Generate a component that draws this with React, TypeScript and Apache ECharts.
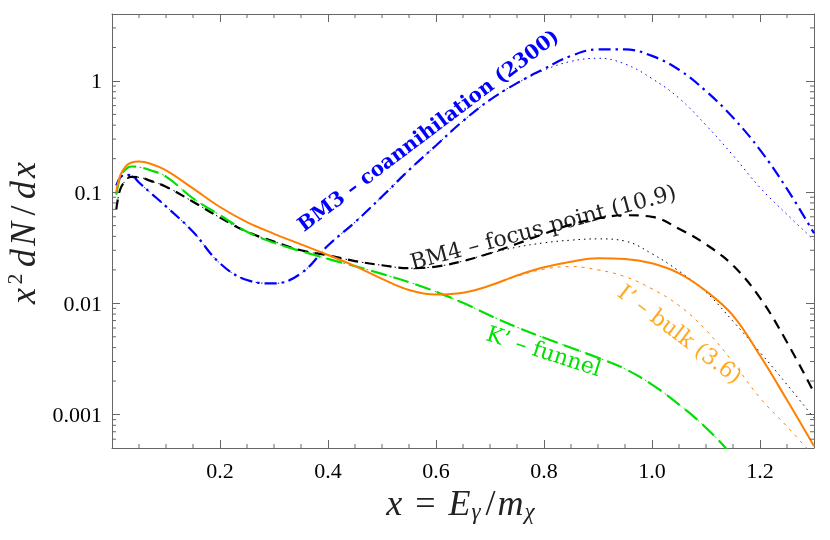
import React, { useEffect, useRef } from "react";
import * as echarts from "echarts";

// ---- data ----
const xs = [0.008, 0.015, 0.025, 0.035, 0.05, 0.07, 0.1, 0.15, 0.2, 0.25, 0.3, 0.35, 0.4, 0.45, 0.5, 0.55, 0.6, 0.65, 0.7, 0.75, 0.8, 0.85, 0.9, 0.95, 1.0, 1.05, 1.1, 1.15, 1.2, 1.25, 1.3];

const bm3Coann = [0.115, 0.135, 0.143, 0.142, 0.122, 0.1, 0.0745, 0.044, 0.0229, 0.0162, 0.0151, 0.0186, 0.0331, 0.0537, 0.0912, 0.158, 0.263, 0.436, 0.676, 0.955, 1.285, 1.68, 1.92, 1.92, 1.68, 1.26, 0.81, 0.468, 0.24, 0.107, 0.0427];
const bm3CoannAlt = [0.115, 0.135, 0.143, 0.142, 0.122, 0.1, 0.0745, 0.044, 0.0229, 0.0162, 0.0151, 0.0186, 0.0331, 0.0537, 0.0912, 0.158, 0.263, 0.436, 0.676, 0.955, 1.25, 1.5, 1.6, 1.42, 1.05, 0.7, 0.4, 0.214, 0.11, 0.063, 0.037];

const bm4Focus = [0.07, 0.105, 0.127, 0.137, 0.136, 0.127, 0.112, 0.082, 0.059, 0.044, 0.036, 0.03, 0.027, 0.024, 0.022, 0.0207, 0.0214, 0.024, 0.0282, 0.0343, 0.0422, 0.051, 0.058, 0.062, 0.06, 0.0468, 0.0339, 0.0219, 0.0112, 0.00447, 0.00158];
const bm4FocusAlt = [0.07, 0.105, 0.127, 0.137, 0.136, 0.127, 0.112, 0.082, 0.059, 0.044, 0.036, 0.03, 0.027, 0.024, 0.022, 0.0207, 0.0214, 0.024, 0.0282, 0.032, 0.035, 0.037, 0.038, 0.0363, 0.0279, 0.0195, 0.0126, 0.0069, 0.00363, 0.00186, 0.00093];

const iBulk = [0.1, 0.14, 0.17, 0.184, 0.189, 0.181, 0.157, 0.108, 0.0735, 0.0537, 0.0422, 0.0339, 0.0272, 0.0216, 0.0166, 0.0132, 0.012, 0.01245, 0.01445, 0.0178, 0.0211, 0.0237, 0.0254, 0.0251, 0.0229, 0.0186, 0.0129, 0.00776, 0.00339, 0.00135, 0.00052];
const iBulkAlt = [0.1, 0.14, 0.17, 0.184, 0.189, 0.181, 0.157, 0.108, 0.0735, 0.0537, 0.0422, 0.0339, 0.0272, 0.0216, 0.0166, 0.0132, 0.012, 0.01245, 0.01445, 0.0175, 0.0203, 0.0214, 0.02, 0.0174, 0.0135, 0.00955, 0.00575, 0.00295, 0.00141, 0.00078, 0.00042];

const kFunnel = [0.095, 0.135, 0.16, 0.17, 0.168, 0.158, 0.138, 0.088, 0.062, 0.044, 0.035, 0.0295, 0.0251, 0.0216, 0.0184, 0.0155, 0.0127, 0.0101, 0.00776, 0.0061, 0.0049, 0.00398, 0.00324, 0.00257, 0.00186, 0.00123, 0.00076, 0.00042, 0.00021, null, null];

const xTickLabels = ["0.2", "0.4", "0.6", "0.8", "1.0", "1.2"];
const yTickLabels = ["0.001", "0.01", "0.1", "1"];
const xMinorTicks = [0.05, 0.1, 0.15, 0.25, 0.3, 0.35, 0.45, 0.5, 0.55, 0.65, 0.7, 0.75, 0.85, 0.9, 0.95, 1.05, 1.1, 1.15, 1.25];
const yMinorTicks = [0.0006, 0.0007, 0.0008, 0.0009, 0.002, 0.003, 0.004, 0.005, 0.006, 0.007, 0.008, 0.009, 0.02, 0.03, 0.04, 0.05, 0.06, 0.07, 0.08, 0.09, 0.2, 0.3, 0.4, 0.5, 0.6, 0.7, 0.8, 0.9, 2, 3];

const X_MIN = 0;
const X_MAX = 1.3;
const Y_MIN = 0.0005;
const Y_MAX = 4;

const SERIF = '"Liberation Serif", "Times New Roman", serif';
const LABEL_SERIF = '"DejaVu Serif", serif';
const AXIS_COLOR = "#666";

const pair = (ys: (number | null)[]) => xs.map((x, i) => [x, ys[i] === null ? "-" : ys[i]]);

const App = () => {
  const ref = useRef<HTMLDivElement>(null);
  useEffect(() => {
    const chart = echarts.init(ref.current!, null, { renderer: "svg" });

    const xLabelFmt = (v: number) => {
      const s = v.toFixed(1);
      return xTickLabels.includes(s) && Math.abs(v - parseFloat(s)) < 1e-6 ? s : "";
    };
    const yLabelFmt = (v: number) => {
      const l = Math.log10(v);
      if (Math.abs(l - Math.round(l)) > 1e-6) return "";
      const s = String(Number(v.toPrecision(1)));
      return yTickLabels.includes(s) ? s : "";
    };

    const xAxisBase = (pos: "bottom" | "top", labels: boolean) => ({
      type: "value",
      position: pos,
      min: X_MIN,
      max: X_MAX,
      interval: 0.2,
      axisLine: { show: true, onZero: false, lineStyle: { color: AXIS_COLOR, width: 1 } },
      axisTick: { show: true, inside: true, length: 8, lineStyle: { color: AXIS_COLOR } },
      splitLine: { show: false },
      axisLabel: {
        show: labels,
        formatter: xLabelFmt,
        color: "#000",
        fontFamily: SERIF,
        fontSize: 22,
        margin: 11,
      },
    });
    const yAxisBase = (pos: "left" | "right", labels: boolean) => ({
      type: "log",
      logBase: 10,
      position: pos,
      min: Y_MIN,
      max: Y_MAX,
      splitNumber: 4,
      axisLine: { show: true, onZero: false, lineStyle: { color: AXIS_COLOR, width: 1 } },
      axisTick: { show: true, inside: true, length: 8, lineStyle: { color: AXIS_COLOR } },
      splitLine: { show: false },
      axisLabel: {
        show: labels,
        formatter: yLabelFmt,
        color: "#000",
        fontFamily: SERIF,
        fontSize: 22,
        margin: 10,
      },
    });

    const line = (name: string, ys: (number | null)[], color: string, width: number, type: any, z = 2) => ({
      name,
      type: "line",
      data: pair(ys),
      showSymbol: false,
      symbol: "none",
      smooth: 0.4,
      clip: true,
      z,
      lineStyle: { color, width, type, cap: "butt" },
    });

    const tickLine = (x1: number, y1: number, x2: number, y2: number) => ({
      type: "line",
      shape: { x1, y1, x2, y2 },
      style: { stroke: AXIS_COLOR, lineWidth: 1 },
    });

    const option: any = {
      animation: false,
      grid: { left: 112, right: 16, top: 14, bottom: 92, containLabel: false },
      xAxis: [xAxisBase("bottom", true), xAxisBase("top", false)],
      yAxis: [yAxisBase("left", true), yAxisBase("right", false)],
      series: [
        line("BM3 alt", bm3CoannAlt, "#0000ff", 1, [1.5, 4], 2),
        line("BM3 – coannihilation", bm3Coann, "#0000ff", 2.2, [12, 5, 2.5, 5], 3),
        line("BM4 alt", bm4FocusAlt, "#000000", 1, [1.5, 4], 2),
        line("BM4 – focus point", bm4Focus, "#000000", 2.2, [10, 7], 3),
        line("K' alt", kFunnel, "#00e000", 1, [2, 4], 2),
        line("K' – funnel", kFunnel, "#00e000", 2.2, [16, 7], 3),
        line("I' alt", iBulkAlt, "#ff8000", 1, [3, 5], 2),
        line("I' – bulk", iBulk, "#ff8000", 2, "solid", 4),
        {
          type: "custom",
          coordinateSystem: "cartesian2d",
          silent: true,
          clip: false,
          z: 5,
          data: yMinorTicks.map((v) => [X_MIN, v]),
          renderItem: (params: any, api: any) => {
            const v = api.value(1);
            const l = api.coord([X_MIN, v]);
            const r = api.coord([X_MAX, v]);
            return {
              type: "group",
              children: [tickLine(l[0], l[1], l[0] + 4, l[1]), tickLine(r[0] - 4, r[1], r[0], r[1])],
            };
          },
        },
        {
          type: "custom",
          coordinateSystem: "cartesian2d",
          silent: true,
          clip: false,
          z: 5,
          data: xMinorTicks.map((v) => [v, Y_MIN]),
          renderItem: (params: any, api: any) => {
            const v = api.value(0);
            const b = api.coord([v, Y_MIN]);
            const t = api.coord([v, Y_MAX]);
            return {
              type: "group",
              children: [tickLine(b[0], b[1], b[0], b[1] - 4), tickLine(t[0], t[1], t[0], t[1] + 4)],
            };
          },
        },
      ],
      graphic: [
        {
          type: "text",
          x: 428,
          y: 130,
          rotation: (37 * Math.PI) / 180,
          style: {
            text: "BM3 – coannihilation (2300)",
            fill: "#0000ff",
            font: `bold 20px ${LABEL_SERIF}`,
            align: "center",
            verticalAlign: "middle",
          },
        },
        {
          type: "text",
          x: 543,
          y: 227,
          rotation: (15 * Math.PI) / 180,
          style: {
            text: "BM4 – focus point (10.9)",
            fill: "#222222",
            font: `22px ${LABEL_SERIF}`,
            align: "center",
            verticalAlign: "middle",
          },
        },
        {
          type: "text",
          x: 680,
          y: 334,
          rotation: (-37 * Math.PI) / 180,
          style: {
            text: "I’ – bulk (3.6)",
            fill: "#ffaa22",
            font: `22px ${LABEL_SERIF}`,
            align: "center",
            verticalAlign: "middle",
          },
        },
        {
          type: "text",
          x: 544,
          y: 351,
          rotation: (-18 * Math.PI) / 180,
          style: {
            text: "K’ – funnel",
            fill: "#00e000",
            font: `22px ${LABEL_SERIF}`,
            align: "center",
            verticalAlign: "middle",
          },
        },
        {
          type: "text",
          x: 462,
          y: 503,
          style: {
            text: "{i|x}{eq|=}{i|E}{s|γ}{sl|/}{i|m}{s|χ}",
            align: "center",
            verticalAlign: "middle",
            rich: {
              i: { fontFamily: SERIF, fontStyle: "italic", fontSize: 36, lineHeight: 40, fill: "#222" },
              eq: { fontFamily: SERIF, fontSize: 36, lineHeight: 40, fill: "#222", padding: [0, 13, 0, 13] },
              sl: { fontFamily: SERIF, fontSize: 36, lineHeight: 40, fill: "#222", padding: [0, 2, 0, 2] },
              s: { fontFamily: SERIF, fontStyle: "italic", fontSize: 23, lineHeight: 19, verticalAlign: "bottom", fill: "#222", padding: [0, 3, 0, 1] },
            },
          },
        },
        {
          type: "text",
          x: 23,
          y: 233,
          rotation: Math.PI / 2,
          style: {
            text: "{i|x}{sup|2}{i|d}{i|N}{sl|/}{i|d}{i|x}",
            align: "center",
            verticalAlign: "middle",
            rich: {
              i: { fontFamily: SERIF, fontStyle: "italic", fontSize: 36, lineHeight: 40, fill: "#222", padding: [0, 1.5, 0, 1.5] },
              sl: { fontFamily: SERIF, fontSize: 36, lineHeight: 40, fill: "#222", padding: [0, 5, 0, 5] },
              sup: { fontFamily: SERIF, fontSize: 22, lineHeight: 22, verticalAlign: "top", fill: "#222", padding: [0, 5, 0, 2] },
            },
          },
        },
      ],
    };

    chart.setOption(option);
    return () => chart.dispose();
  }, []);
  return <div ref={ref} style={{ position: "fixed", left: 0, top: 0, width: 830, height: 540 }} />;
};

export default App;
